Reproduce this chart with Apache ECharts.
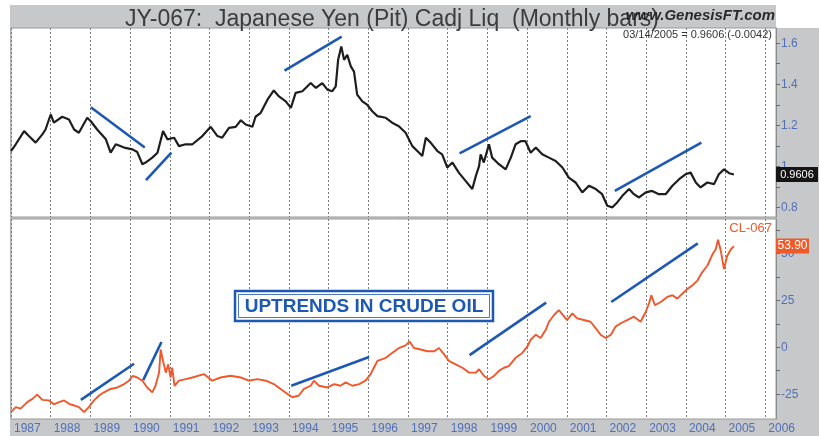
<!DOCTYPE html>
<html><head><meta charset="utf-8">
<script src="https://cdn.jsdelivr.net/npm/echarts@6/dist/echarts.min.js"></script>
<style>html,body{margin:0;padding:0;background:#fff}#c{width:819px;height:436px}</style>
</head><body><div id="c"></div>
<script>
// ---- Data ----
const yearTicks = [1987,1988,1989,1990,1991,1992,1993,1994,1995,1996,1997,1998,1999,2000,2001,2002,2003,2004,2005,2006];
const jyTickLabels = [0.8, 1.0, 1.2, 1.4, 1.6];
const clTickLabels = [-25, 0, 25, 50];

const jyYears = [1987.00,1987.12,1987.33,1987.45,1987.62,1987.79,1987.87,1988.00,1988.08,1988.29,
1988.46,1988.59,1988.71,1988.92,1989.01,1989.17,1989.39,1989.51,1989.64,1989.85,
1990.06,1990.18,1990.31,1990.39,1990.56,1990.69,1990.83,1990.94,1991.11,1991.23,
1991.40,1991.57,1991.82,1992.03,1992.20,1992.32,1992.49,1992.66,1992.79,1992.91,
1993.08,1993.16,1993.29,1993.46,1993.62,1993.75,1993.92,1994.05,1994.17,1994.34,
1994.55,1994.68,1994.84,1994.97,1995.09,1995.18,1995.24,1995.32,1995.39,1995.47,
1995.56,1995.64,1995.72,1995.85,1995.97,1996.10,1996.23,1996.44,1996.60,1996.77,
1996.94,1997.11,1997.28,1997.36,1997.45,1997.57,1997.74,1997.86,1997.99,1998.12,
1998.28,1998.45,1998.62,1998.71,1998.79,1998.83,1998.91,1999.04,1999.12,1999.29,
1999.46,1999.59,1999.71,1999.84,1999.96,2000.09,2000.22,2000.38,2000.55,2000.72,
2000.89,2001.05,2001.22,2001.39,2001.56,2001.73,2001.89,2002.02,2002.15,2002.27,
2002.40,2002.57,2002.69,2002.82,2002.99,2003.15,2003.32,2003.49,2003.66,2003.83,
2003.99,2004.12,2004.25,2004.37,2004.54,2004.71,2004.83,2004.96,2005.09,2005.21];
const jyValues = [1.075,1.108,1.172,1.148,1.116,1.156,1.180,1.253,1.213,1.242,
1.229,1.180,1.164,1.237,1.220,1.180,1.132,1.067,1.108,1.092,
1.083,1.070,1.011,1.019,1.043,1.067,1.172,1.132,1.140,1.099,
1.108,1.108,1.148,1.193,1.148,1.140,1.188,1.193,1.225,1.204,
1.193,1.242,1.261,1.325,1.370,1.341,1.317,1.285,1.358,1.366,
1.406,1.382,1.406,1.374,1.366,1.390,1.519,1.584,1.519,1.543,
1.487,1.462,1.350,1.317,1.301,1.269,1.245,1.237,1.213,1.196,
1.164,1.099,1.067,1.051,1.140,1.116,1.075,1.059,0.995,1.019,
0.970,0.930,0.890,0.954,1.002,1.059,1.019,1.108,1.043,1.011,
0.986,1.043,1.108,1.123,1.123,1.067,1.092,1.059,1.043,1.027,
0.995,0.946,0.922,0.874,0.906,0.890,0.865,0.809,0.801,0.825,
0.857,0.890,0.865,0.849,0.874,0.881,0.865,0.865,0.906,0.938,
0.962,0.970,0.922,0.898,0.922,0.914,0.962,0.986,0.967,0.9606];

const clYears = [1987.00,1987.12,1987.24,1987.41,1987.54,1987.66,1987.79,1987.96,1988.08,1988.21,
1988.34,1988.46,1988.59,1988.71,1988.84,1988.96,1989.09,1989.22,1989.34,1989.51,
1989.68,1989.85,1989.97,1990.07,1990.18,1990.31,1990.43,1990.56,1990.64,1990.73,
1990.77,1990.83,1990.90,1990.96,1991.02,1991.06,1991.12,1991.23,1991.40,1991.57,
1991.86,1992.07,1992.28,1992.53,1992.79,1992.99,1993.20,1993.42,1993.62,1993.79,
1993.96,1994.09,1994.25,1994.38,1994.55,1994.63,1994.76,1994.97,1995.14,1995.30,
1995.43,1995.60,1995.77,1995.93,1996.06,1996.14,1996.23,1996.44,1996.60,1996.77,
1996.94,1997.04,1997.15,1997.32,1997.49,1997.66,1997.78,1997.91,1998.03,1998.20,
1998.37,1998.54,1998.71,1998.79,1998.91,1999.04,1999.17,1999.29,1999.42,1999.54,
1999.71,1999.88,2000.01,2000.09,2000.22,2000.34,2000.47,2000.55,2000.68,2000.80,
2000.85,2001.01,2001.14,2001.26,2001.43,2001.60,2001.73,2001.85,2001.98,2002.11,
2002.23,2002.36,2002.52,2002.69,2002.86,2002.99,2003.07,2003.13,2003.22,2003.37,
2003.53,2003.66,2003.78,2003.91,2004.04,2004.16,2004.29,2004.41,2004.54,2004.67,
2004.75,2004.81,2004.88,2004.96,2005.04,2005.13,2005.21];
const clValues = [-34.5,-31.9,-32.7,-29.2,-27.5,-25.2,-28.0,-28.3,-30.4,-29.2,
-28.3,-30.1,-31.0,-31.9,-34.5,-31.9,-28.3,-25.7,-24.0,-22.2,
-21.4,-19.6,-17.8,-15.2,-16.1,-17.8,-21.4,-24.0,-20.5,-13.5,
-1.2,-7.3,-13.5,-9.1,-16.1,-10.9,-20.5,-17.8,-17.0,-16.1,
-14.3,-17.8,-16.1,-15.2,-16.1,-17.8,-17.0,-17.8,-19.6,-22.2,
-24.8,-26.6,-25.7,-22.2,-20.5,-17.8,-20.5,-21.4,-19.6,-20.5,
-18.7,-20.5,-19.6,-17.8,-14.3,-10.9,-7.3,-5.6,-3.0,-0.4,
1.0,3.1,-0.4,-1.2,-2.1,-2.1,-0.4,-3.8,-7.3,-9.1,
-10.9,-13.5,-13.5,-11.7,-15.2,-17.0,-15.2,-12.6,-10.9,-10.0,
-5.6,-3.0,0.5,4.0,6.7,4.9,9.3,13.6,17.2,19.8,
20.6,14.5,18.0,15.4,14.5,13.6,10.1,6.7,4.9,6.7,
11.0,12.8,14.5,16.3,13.6,18.9,23.3,27.7,22.4,24.1,
26.8,27.7,25.9,28.5,31.1,32.9,35.5,39.9,43.4,49.5,
52.1,57.3,51.3,41.6,48.6,52.1,53.9];

// trend lines: [yearStart, valueStart, yearEnd, valueEnd]
const jyTrends = [[1989.01,1.288,1990.37,1.092],[1990.40,0.933,1991.04,1.067],[1993.89,1.466,1995.33,1.632],[1998.30,1.064,2000.09,1.245],[2002.21,0.881,2004.39,1.116]];
const clTrends = [[1988.76,-28.0,1990.10,-8.8],[1990.33,-17.5,1990.79,2.8],[1994.06,-20.5,1996.02,-5.2],[1998.55,-4.2,2000.48,23.8],[2002.12,24.1,2004.30,55.3]];

const titleText = 'JY-067:  Japanese Yen (Pit) Cadj Liq  (Monthly bars)';
const siteText = 'www.GenesisFT.com';
const quoteText = '03/14/2005 = 0.9606 (-0.0042)';
const clName = 'CL-067';
const jyLastLabel = '0.9606';
const clLastLabel = '53.90';
const noteText = 'UPTRENDS IN CRUDE OIL';

// ---- Chart ----
const FONT = "'Liberation Sans', Arial, sans-serif";
const AXIS_BLUE = '#5170b8';
const FRAME = '#c6c8ca';
const TREND = '#1d58b3';
const chart = echarts.init(document.getElementById('c'), null, {renderer: 'canvas'});

function xAxisDef(gi, showLabel) {
  return {
    type: 'value', gridIndex: gi, min: 1987, max: 2006.27, interval: 1,
    axisLine: {show: false}, axisTick: {show: false},
    splitLine: {show: true, lineStyle: {color: '#7c7c7c', type: [2, 2], width: 1}},
    axisLabel: {
      show: showLabel, align: 'left', margin: 4, padding: [0, 0, 0, 3],
      color: AXIS_BLUE, fontSize: 12, fontFamily: FONT,
      formatter: v => (yearTicks.indexOf(v) >= 0 ? String(v) : '')
    }
  };
}
function yAxisDef(gi, min, max, labels, ticks, fmt) {
  return {
    type: 'value', gridIndex: gi, position: 'right', min: min, max: max,
    splitLine: {show: false},
    axisLine: {show: true, lineStyle: {color: '#8c8c8c', width: 1}},
    axisTick: {show: true, customValues: ticks, length: 4, lineStyle: {color: '#6a6a6a'}},
    axisLabel: {customValues: labels, formatter: fmt, color: AXIS_BLUE, fontSize: 12, fontFamily: FONT, margin: 5}
  };
}

const series = [
  {type: 'line', xAxisIndex: 0, yAxisIndex: 0, data: jyYears.map((y, i) => [y, jyValues[i]]),
   showSymbol: false, symbol: 'none', lineStyle: {color: '#1e1e1e', width: 2.2}, z: 3, silent: true},
  {type: 'line', xAxisIndex: 1, yAxisIndex: 1, data: clYears.map((y, i) => [y, clValues[i]]),
   showSymbol: false, symbol: 'none', lineStyle: {color: '#f0582c', width: 1.9}, z: 3, silent: true}
];
jyTrends.forEach(t => series.push({type: 'line', xAxisIndex: 0, yAxisIndex: 0, data: [[t[0], t[1]], [t[2], t[3]]],
  symbol: 'none', lineStyle: {color: TREND, width: 2.6}, z: 4, silent: true}));
clTrends.forEach(t => series.push({type: 'line', xAxisIndex: 1, yAxisIndex: 1, data: [[t[0], t[1]], [t[2], t[3]]],
  symbol: 'none', lineStyle: {color: TREND, width: 2.6}, z: 4, silent: true}));

const baseGraphics = [
  {id: 'frame', type: 'rect', z: -10, shape: {x: 10, y: 28, width: 809, height: 408}, style: {fill: FRAME}},
  {id: 'band', type: 'rect', z: -10, shape: {x: 10, y: 5, width: 766, height: 23}, style: {fill: FRAME}},
  {id: 'title', type: 'text', z: 50, x: 125, y: 20, style: {text: titleText, font: '23px ' + FONT, fill: '#3c3c3c', verticalAlign: 'middle'}},
  {id: 'site', type: 'text', z: 50, x: 775, y: 16, style: {text: siteText, font: 'italic bold 15px ' + FONT, fill: '#2a2a2a', align: 'right', verticalAlign: 'middle'}},
  {id: 'quote', type: 'text', z: 50, x: 772, y: 35, style: {text: quoteText, font: '11px ' + FONT, fill: '#333', align: 'right', verticalAlign: 'middle'}},
  {id: 'clname', type: 'text', z: 50, x: 772, y: 228, style: {text: clName, font: '13px ' + FONT, fill: '#ee5a2f', align: 'right', verticalAlign: 'middle'}},
  {id: 'noteBox', type: 'rect', z: 50, shape: {x: 235, y: 291, width: 258, height: 30}, style: {fill: '#fff', stroke: TREND, lineWidth: 2.5}},
  {id: 'noteBox2', type: 'rect', z: 51, shape: {x: 238.5, y: 294.5, width: 251, height: 23}, style: {fill: 'none', stroke: TREND, lineWidth: 0.8}},
  {id: 'note', type: 'text', z: 52, x: 364, y: 306.5, style: {text: noteText, font: 'bold 19px ' + FONT, fill: TREND, align: 'center', verticalAlign: 'middle'}}
];

chart.setOption({
  backgroundColor: '#ffffff',
  animation: false,
  grid: [
    {left: 11, right: 43, top: 28, height: 189, show: true, backgroundColor: '#fff', borderColor: '#9a9a9a', borderWidth: 1},
    {left: 11, right: 43, top: 219, height: 200, show: true, backgroundColor: '#fff', borderColor: '#9a9a9a', borderWidth: 1}
  ],
  xAxis: [xAxisDef(0, false), xAxisDef(1, true)],
  yAxis: [
    yAxisDef(0, 0.754, 1.674, jyTickLabels, [0.8,0.9,1.0,1.1,1.2,1.3,1.4,1.5,1.6], v => (Math.abs(v - 1) < 1e-9 ? '1' : v.toFixed(1))),
    yAxisDef(1, -38.2, 68.3, clTickLabels, [-25,-12.5,0,12.5,25,37.5,50,62.5], v => String(v))
  ],
  series: series,
  graphic: baseGraphics
});

// last-value tags placed through the axes' own scales
const jyPy = chart.convertToPixel({yAxisIndex: 0}, jyValues[jyValues.length - 1]);
const clPy = chart.convertToPixel({yAxisIndex: 1}, clValues[clValues.length - 1]);
chart.setOption({graphic: baseGraphics.concat([
  {id: 'jyTag', type: 'rect', z: 60, shape: {x: 776, y: jyPy - 7.5, width: 42, height: 15}, style: {fill: '#151515'}},
  {id: 'jyTagT', type: 'text', z: 61, x: 797, y: jyPy, style: {text: jyLastLabel, font: '11px ' + FONT, fill: '#fff', align: 'center', verticalAlign: 'middle'}},
  {id: 'clTag', type: 'rect', z: 60, shape: {x: 776, y: clPy - 7.5, width: 33, height: 15}, style: {fill: '#f05a28'}},
  {id: 'clTagT', type: 'text', z: 61, x: 792.5, y: clPy, style: {text: clLastLabel, font: '12px ' + FONT, fill: '#fff', align: 'center', verticalAlign: 'middle'}}
])});
</script>
</body></html>
